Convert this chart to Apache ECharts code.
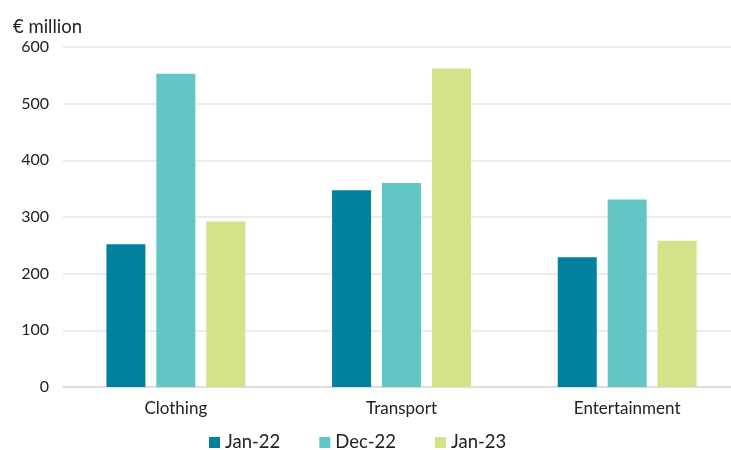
<!DOCTYPE html>
<html>
<head>
<meta charset="utf-8">
<script src="https://cdn.jsdelivr.net/npm/echarts@6/dist/echarts.min.js"></script>
<style>
html,body{margin:0;padding:0;background:#fff;overflow:hidden;width:731px;height:450px;}
#c{width:745px;height:450px;}
</style>
</head>
<body>
<div id="c"></div>
<script>
var categories = ['Clothing', 'Transport', 'Entertainment'];
var seriesNames = ['Jan-22', 'Dec-22', 'Jan-23'];
var jan22 = [252, 347, 229];
var dec22 = [553, 360, 331];
var jan23 = [292, 562, 258];
var yTicks = [0, 100, 200, 300, 400, 500, 600];
var colors = ['#00829F', '#62C6C2', '#D4E38A'];

var chart = echarts.init(document.getElementById('c'), null, {renderer: 'canvas'});
var font = 'Lato, "Noto Sans", sans-serif';
var values = [jan22, dec22, jan23];
chart.setOption({
  animation: false,
  color: colors,
  textStyle: {fontFamily: font},
  title: {
    text: '€ million', left: 8, top: 13,
    textStyle: {fontFamily: font, fontSize: 18.5, fontWeight: 'normal', color: '#222'}
  },
  legend: {
    top: 428, left: 204,
    itemWidth: 11, itemHeight: 11, itemGap: 39,
    icon: 'rect',
    textStyle: {fontFamily: font, fontSize: 18.5, color: '#222'},
    data: seriesNames
  },
  grid: {left: 63, top: 47, bottom: 63, right: 5, containLabel: false},
  xAxis: {
    type: 'category', data: categories,
    axisLine: {lineStyle: {color: '#d9d9d9', width: 1.5}},
    axisTick: {show: false},
    axisLabel: {fontFamily: font, fontSize: 17, color: '#222', margin: 13}
  },
  yAxis: {
    type: 'value', min: yTicks[0], max: yTicks[yTicks.length - 1], interval: 100,
    axisLine: {show: false}, axisTick: {show: false},
    axisLabel: {fontFamily: font, fontSize: 16, color: '#222', margin: 14},
    splitLine: {lineStyle: {color: '#e6e6e6', width: 1.5}}
  },
  series: seriesNames.map(function (n, i) {
    return {name: n, type: 'bar', data: values[i], barWidth: 39, barGap: '28%'};
  })
});
</script>
</body>
</html>
